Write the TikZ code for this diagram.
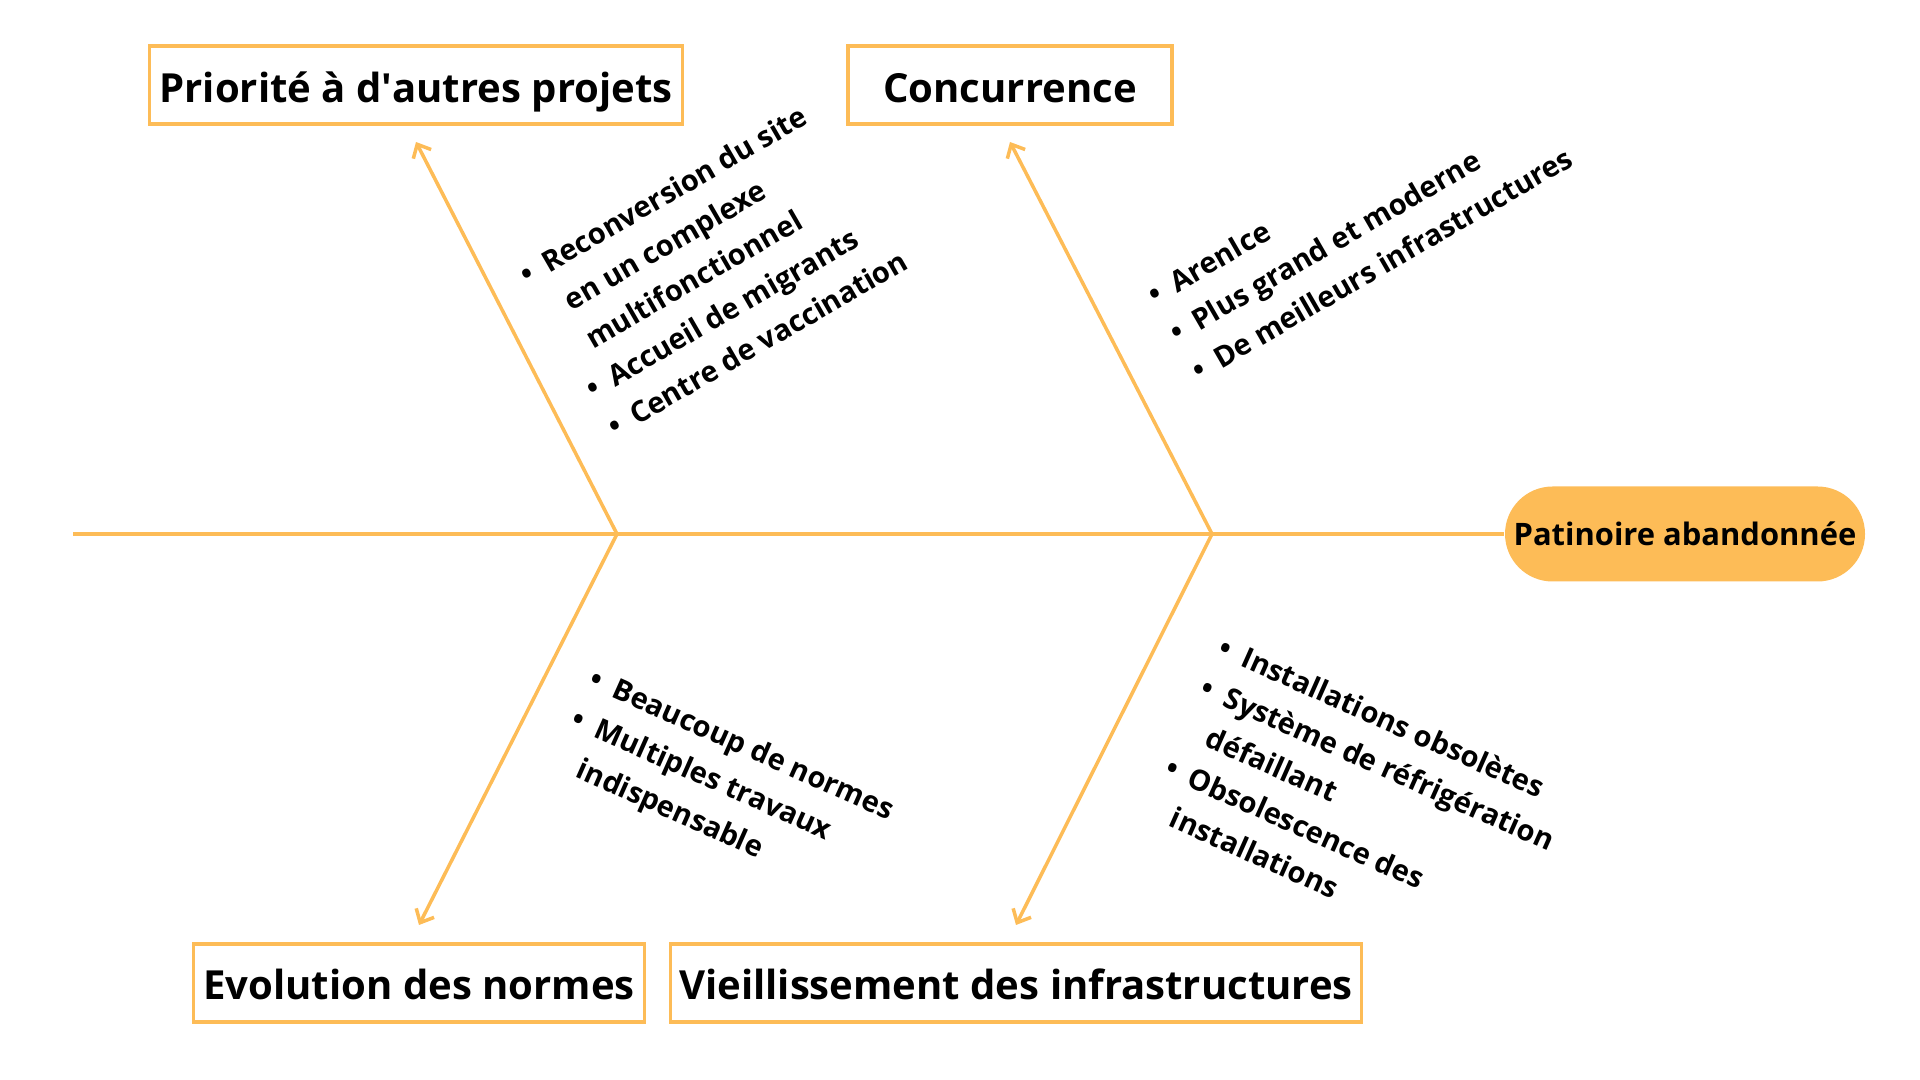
\documentclass[tikz,border=0pt]{standalone}
\usepackage{fontspec}
\setmainfont{Open Sans}
\usetikzlibrary{positioning,arrows.meta}
\definecolor{ambre}{RGB}{253,188,87}
\newcommand{\liste}[1]{\begin{tabular}[t]{@{}l@{\hspace{4pt}}l@{}}#1\end{tabular}}
\begin{document}
\begin{tikzpicture}[
	trait/.style={draw=ambre, line width=1.1pt},
	fleche/.style={draw=ambre, line width=1pt, -{Straight Barb[length=1.1mm,width=2mm]}},
	cause/.style={draw=ambre, line width=1pt, minimum height=0.78cm, inner xsep=2pt, text height=0.44cm, text depth=0.1cm, font=\fontsize{11.4}{13}\selectfont\bfseries},
	effet/.style={fill=ambre, rounded corners=0.475cm, minimum width=3.6cm, minimum height=0.95cm, inner sep=0pt, font=\fontsize{8.8}{10}\selectfont\bfseries},
	liste/.style={inner sep=0pt, anchor=base west, font=\fontsize{8.25}{12.5}\selectfont\bfseries}]
	\useasboundingbox (0,0) rectangle (19.2,10.8);
	\coordinate (Q) at (0.73,5.46);
	\coordinate (J1) at (6.17,5.46);
	\coordinate (J2) at (12.12,5.46);
	\coordinate (T1) at (4.16,9.38);
	\coordinate (T2) at (10.10,9.38);
	\coordinate (T3) at (4.19,1.55);
	\coordinate (T4) at (10.16,1.55);
	\node (E) at (16.85,5.46) [effet] {Patinoire abandonnée};
	\node (A) [cause, minimum width=5.33cm, above=0.16cm of T1] {Priorité à d\textquotesingle autres projets};
	\node (B) [cause, minimum width=3.24cm, above=0.16cm of T2] {Concurrence};
	\node (C) [cause, minimum width=4.51cm, below=0.17cm of T3] {Evolution des normes};
	\node (D) [cause, minimum width=6.91cm, below=0.17cm of T4] {Vieillissement des infrastructures};
	\draw[trait] (Q) -- (E);
	\draw[fleche] (J1) -- (T1);
	\draw[fleche] (J2) -- (T2);
	\draw[fleche] (J1) -- (T3);
	\draw[fleche] (J2) -- (T4);
	% listes des sous-causes
	\node (LA) at (5.27,7.94) [liste, rotate=30] {\liste{\textbullet & Reconversion du site\\ & en un complexe\\ & multifonctionnel\\ \textbullet & Accueil de migrants\\ \textbullet & Centre de vaccination}};
	\node (LB) at (11.55,7.74) [liste, rotate=30] {\liste{\textbullet & ArenIce\\ \textbullet & Plus grand et moderne\\ \textbullet & De meilleurs infrastructures}};
	\node (LC) at (5.87,3.94) [liste, rotate=-24] {\liste{\textbullet & Beaucoup de normes\\ \textbullet & Multiples travaux\\ & indispensable}};
	\node (LD) at (12.16,4.25) [liste, rotate=-24] {\liste{\textbullet & Installations obsolètes\\ \textbullet & Système de réfrigération\\ & défaillant\\ \textbullet & Obsolescence des\\ & installations}};
\end{tikzpicture}
\end{document}
